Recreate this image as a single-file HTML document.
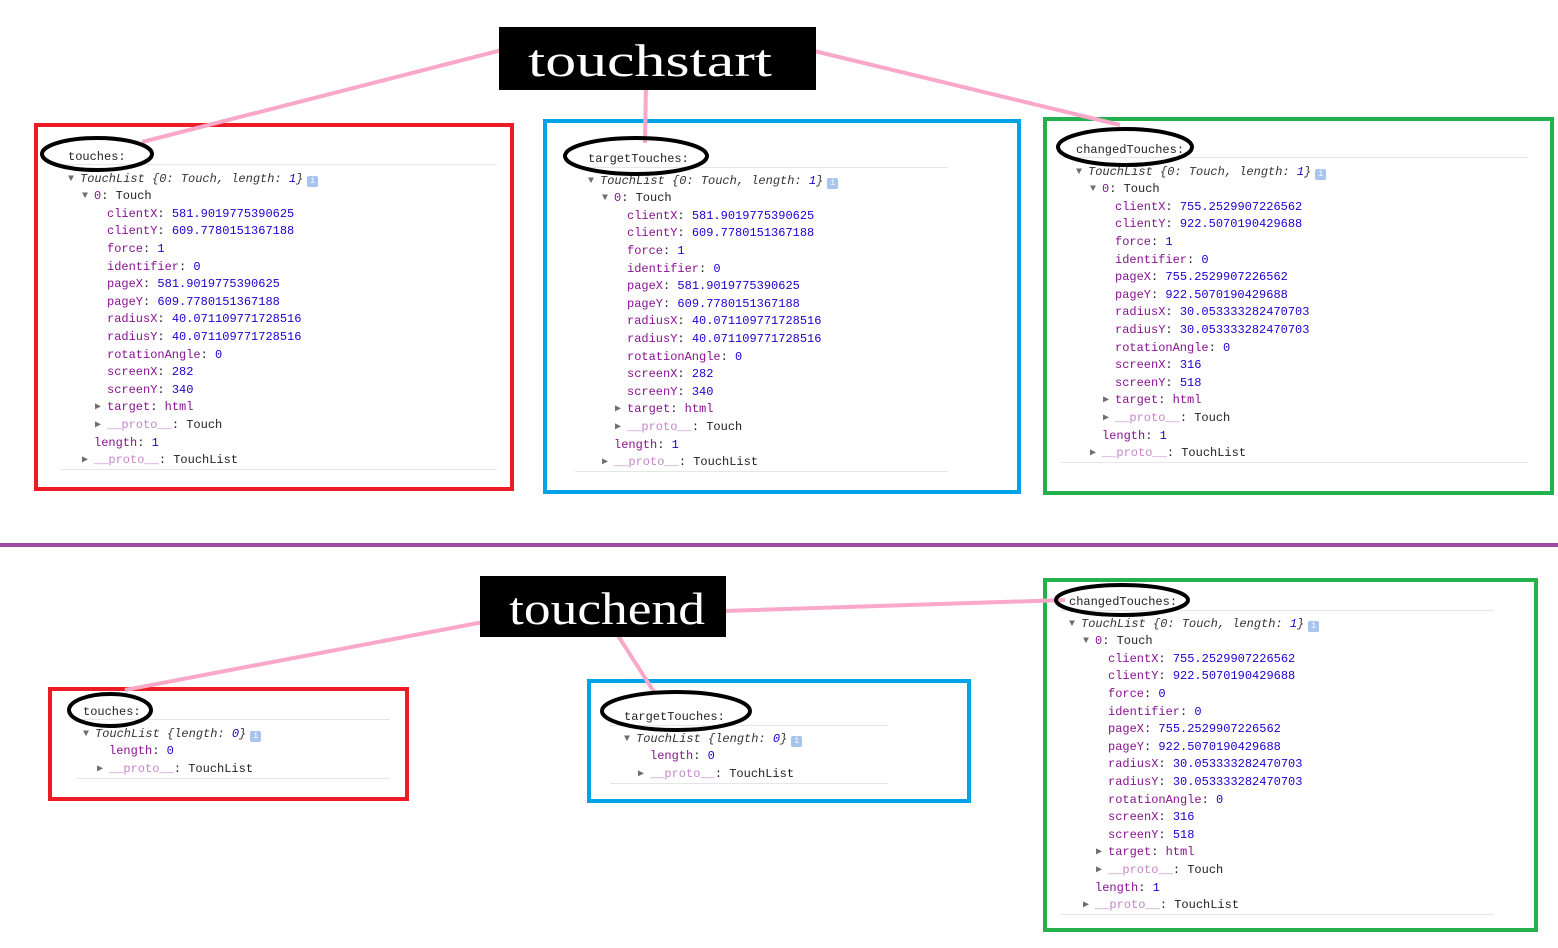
<!DOCTYPE html>
<html><head><meta charset="utf-8"><style>
body{margin:0;width:1558px;height:948px;background:#fff;position:relative;overflow:hidden}
.box{position:absolute;box-sizing:border-box}
.p{position:absolute;font:12px/17.6px "Liberation Mono",monospace;color:#222}
.r{height:17.6px;white-space:pre}
.h{height:17.6px;margin-bottom:4px;white-space:pre}
.k{color:#881391}.n{color:#1c00cf}.pr{color:#c387c8}.i{font-style:italic;color:#333}
.t{color:#6e6e6e;font-size:10px;display:inline-block;width:12px;vertical-align:top}
.ic{display:inline-block;width:11px;height:11px;background:#a7c4ee;border-radius:2px;color:#fff;font-size:9px;line-height:11px;text-align:center;vertical-align:-1px;margin-left:4px;font-style:normal}
.sep{position:absolute;height:1px;background:#e6e6e6}
</style></head><body>
<div class="box" style="left:34px;top:123px;width:480px;height:368px;border:4px solid #ed1c24"></div>
<div class="box" style="left:543px;top:119px;width:478px;height:375px;border:4px solid #00a2e8"></div>
<div class="box" style="left:1043px;top:117px;width:511px;height:378px;border:4px solid #22b14c"></div>
<div class="box" style="left:48px;top:687px;width:361px;height:114px;border:4px solid #ed1c24"></div>
<div class="box" style="left:587px;top:679px;width:384px;height:124px;border:4px solid #00a2e8"></div>
<div class="box" style="left:1043px;top:578px;width:495px;height:354px;border:4px solid #22b14c"></div>
<div style="position:absolute;left:0;top:543px;width:1558px;height:4px;background:#a349a4"></div>

<div class="sep" style="left:60px;top:164px;width:437px"></div><div class="sep" style="left:60px;top:469px;width:437px"></div>
<div class="sep" style="left:575px;top:167px;width:373px"></div><div class="sep" style="left:575px;top:471px;width:373px"></div>
<div class="sep" style="left:1060px;top:157px;width:468px"></div><div class="sep" style="left:1060px;top:462px;width:468px"></div>
<div class="sep" style="left:76px;top:719px;width:314px"></div><div class="sep" style="left:76px;top:778px;width:314px"></div>
<div class="sep" style="left:610px;top:725px;width:278px"></div><div class="sep" style="left:610px;top:783px;width:278px"></div>
<div class="sep" style="left:1060px;top:610px;width:434px"></div><div class="sep" style="left:1060px;top:914px;width:434px"></div>

<div class="p" style="left:68px;top:149px">
<div class="h">touches:</div>
<div class="r"><span class="t">▼</span><span class="i">TouchList {0: Touch, length: <span class="n">1</span>}</span><span class="ic">i</span></div>
<div class="r" style="padding-left:14px"><span class="t">▼</span><span class="k">0</span>: Touch</div>
<div class="r" style="padding-left:39px"><span class="k">clientX</span>: <span class="n">581.9019775390625</span></div>
<div class="r" style="padding-left:39px"><span class="k">clientY</span>: <span class="n">609.7780151367188</span></div>
<div class="r" style="padding-left:39px"><span class="k">force</span>: <span class="n">1</span></div>
<div class="r" style="padding-left:39px"><span class="k">identifier</span>: <span class="n">0</span></div>
<div class="r" style="padding-left:39px"><span class="k">pageX</span>: <span class="n">581.9019775390625</span></div>
<div class="r" style="padding-left:39px"><span class="k">pageY</span>: <span class="n">609.7780151367188</span></div>
<div class="r" style="padding-left:39px"><span class="k">radiusX</span>: <span class="n">40.071109771728516</span></div>
<div class="r" style="padding-left:39px"><span class="k">radiusY</span>: <span class="n">40.071109771728516</span></div>
<div class="r" style="padding-left:39px"><span class="k">rotationAngle</span>: <span class="n">0</span></div>
<div class="r" style="padding-left:39px"><span class="k">screenX</span>: <span class="n">282</span></div>
<div class="r" style="padding-left:39px"><span class="k">screenY</span>: <span class="n">340</span></div>
<div class="r" style="padding-left:27px"><span class="t">▶</span><span class="k">target</span>: <span class="k">html</span></div>
<div class="r" style="padding-left:27px"><span class="t">▶</span><span class="pr">__proto__</span>: Touch</div>
<div class="r" style="padding-left:26px"><span class="k">length</span>: <span class="n">1</span></div>
<div class="r" style="padding-left:14px"><span class="t">▶</span><span class="pr">__proto__</span>: TouchList</div>
</div>

<div class="p" style="left:588px;top:151px">
<div class="h">targetTouches:</div>
<div class="r"><span class="t">▼</span><span class="i">TouchList {0: Touch, length: <span class="n">1</span>}</span><span class="ic">i</span></div>
<div class="r" style="padding-left:14px"><span class="t">▼</span><span class="k">0</span>: Touch</div>
<div class="r" style="padding-left:39px"><span class="k">clientX</span>: <span class="n">581.9019775390625</span></div>
<div class="r" style="padding-left:39px"><span class="k">clientY</span>: <span class="n">609.7780151367188</span></div>
<div class="r" style="padding-left:39px"><span class="k">force</span>: <span class="n">1</span></div>
<div class="r" style="padding-left:39px"><span class="k">identifier</span>: <span class="n">0</span></div>
<div class="r" style="padding-left:39px"><span class="k">pageX</span>: <span class="n">581.9019775390625</span></div>
<div class="r" style="padding-left:39px"><span class="k">pageY</span>: <span class="n">609.7780151367188</span></div>
<div class="r" style="padding-left:39px"><span class="k">radiusX</span>: <span class="n">40.071109771728516</span></div>
<div class="r" style="padding-left:39px"><span class="k">radiusY</span>: <span class="n">40.071109771728516</span></div>
<div class="r" style="padding-left:39px"><span class="k">rotationAngle</span>: <span class="n">0</span></div>
<div class="r" style="padding-left:39px"><span class="k">screenX</span>: <span class="n">282</span></div>
<div class="r" style="padding-left:39px"><span class="k">screenY</span>: <span class="n">340</span></div>
<div class="r" style="padding-left:27px"><span class="t">▶</span><span class="k">target</span>: <span class="k">html</span></div>
<div class="r" style="padding-left:27px"><span class="t">▶</span><span class="pr">__proto__</span>: Touch</div>
<div class="r" style="padding-left:26px"><span class="k">length</span>: <span class="n">1</span></div>
<div class="r" style="padding-left:14px"><span class="t">▶</span><span class="pr">__proto__</span>: TouchList</div>
</div>

<div class="p" style="left:1076px;top:142px">
<div class="h">changedTouches:</div>
<div class="r"><span class="t">▼</span><span class="i">TouchList {0: Touch, length: <span class="n">1</span>}</span><span class="ic">i</span></div>
<div class="r" style="padding-left:14px"><span class="t">▼</span><span class="k">0</span>: Touch</div>
<div class="r" style="padding-left:39px"><span class="k">clientX</span>: <span class="n">755.2529907226562</span></div>
<div class="r" style="padding-left:39px"><span class="k">clientY</span>: <span class="n">922.5070190429688</span></div>
<div class="r" style="padding-left:39px"><span class="k">force</span>: <span class="n">1</span></div>
<div class="r" style="padding-left:39px"><span class="k">identifier</span>: <span class="n">0</span></div>
<div class="r" style="padding-left:39px"><span class="k">pageX</span>: <span class="n">755.2529907226562</span></div>
<div class="r" style="padding-left:39px"><span class="k">pageY</span>: <span class="n">922.5070190429688</span></div>
<div class="r" style="padding-left:39px"><span class="k">radiusX</span>: <span class="n">30.053333282470703</span></div>
<div class="r" style="padding-left:39px"><span class="k">radiusY</span>: <span class="n">30.053333282470703</span></div>
<div class="r" style="padding-left:39px"><span class="k">rotationAngle</span>: <span class="n">0</span></div>
<div class="r" style="padding-left:39px"><span class="k">screenX</span>: <span class="n">316</span></div>
<div class="r" style="padding-left:39px"><span class="k">screenY</span>: <span class="n">518</span></div>
<div class="r" style="padding-left:27px"><span class="t">▶</span><span class="k">target</span>: <span class="k">html</span></div>
<div class="r" style="padding-left:27px"><span class="t">▶</span><span class="pr">__proto__</span>: Touch</div>
<div class="r" style="padding-left:26px"><span class="k">length</span>: <span class="n">1</span></div>
<div class="r" style="padding-left:14px"><span class="t">▶</span><span class="pr">__proto__</span>: TouchList</div>
</div>

<div class="p" style="left:83px;top:704px">
<div class="h">touches:</div>
<div class="r"><span class="t">▼</span><span class="i">TouchList {length: <span class="n">0</span>}</span><span class="ic">i</span></div>
<div class="r" style="padding-left:26px"><span class="k">length</span>: <span class="n">0</span></div>
<div class="r" style="padding-left:14px"><span class="t">▶</span><span class="pr">__proto__</span>: TouchList</div>
</div>

<div class="p" style="left:624px;top:709px">
<div class="h">targetTouches:</div>
<div class="r"><span class="t">▼</span><span class="i">TouchList {length: <span class="n">0</span>}</span><span class="ic">i</span></div>
<div class="r" style="padding-left:26px"><span class="k">length</span>: <span class="n">0</span></div>
<div class="r" style="padding-left:14px"><span class="t">▶</span><span class="pr">__proto__</span>: TouchList</div>
</div>

<div class="p" style="left:1069px;top:594px">
<div class="h">changedTouches:</div>
<div class="r"><span class="t">▼</span><span class="i">TouchList {0: Touch, length: <span class="n">1</span>}</span><span class="ic">i</span></div>
<div class="r" style="padding-left:14px"><span class="t">▼</span><span class="k">0</span>: Touch</div>
<div class="r" style="padding-left:39px"><span class="k">clientX</span>: <span class="n">755.2529907226562</span></div>
<div class="r" style="padding-left:39px"><span class="k">clientY</span>: <span class="n">922.5070190429688</span></div>
<div class="r" style="padding-left:39px"><span class="k">force</span>: <span class="n">0</span></div>
<div class="r" style="padding-left:39px"><span class="k">identifier</span>: <span class="n">0</span></div>
<div class="r" style="padding-left:39px"><span class="k">pageX</span>: <span class="n">755.2529907226562</span></div>
<div class="r" style="padding-left:39px"><span class="k">pageY</span>: <span class="n">922.5070190429688</span></div>
<div class="r" style="padding-left:39px"><span class="k">radiusX</span>: <span class="n">30.053333282470703</span></div>
<div class="r" style="padding-left:39px"><span class="k">radiusY</span>: <span class="n">30.053333282470703</span></div>
<div class="r" style="padding-left:39px"><span class="k">rotationAngle</span>: <span class="n">0</span></div>
<div class="r" style="padding-left:39px"><span class="k">screenX</span>: <span class="n">316</span></div>
<div class="r" style="padding-left:39px"><span class="k">screenY</span>: <span class="n">518</span></div>
<div class="r" style="padding-left:27px"><span class="t">▶</span><span class="k">target</span>: <span class="k">html</span></div>
<div class="r" style="padding-left:27px"><span class="t">▶</span><span class="pr">__proto__</span>: Touch</div>
<div class="r" style="padding-left:26px"><span class="k">length</span>: <span class="n">1</span></div>
<div class="r" style="padding-left:14px"><span class="t">▶</span><span class="pr">__proto__</span>: TouchList</div>
</div>

<svg width="1558" height="948" style="position:absolute;left:0;top:0" xmlns="http://www.w3.org/2000/svg">
<g stroke="#f9a8c9" stroke-width="4" fill="none">
<line x1="142" y1="142" x2="502" y2="50"/>
<line x1="646" y1="82" x2="645" y2="143"/>
<line x1="810" y1="50" x2="1120" y2="125"/>
<line x1="494" y1="620" x2="125" y2="690"/>
<line x1="723" y1="611" x2="1065" y2="600"/>
<line x1="617" y1="634" x2="654" y2="692"/>
</g>
<rect x="499" y="27" width="317" height="63" fill="#000"/>
<text x="528" y="76" font-family="Liberation Serif, serif" font-size="46" fill="#fff" textLength="244" lengthAdjust="spacingAndGlyphs">touchstart</text>
<rect x="480" y="576" width="246" height="61" fill="#000"/>
<text x="509" y="624" font-family="Liberation Serif, serif" font-size="46" fill="#fff" textLength="196" lengthAdjust="spacingAndGlyphs">touchend</text>
<g stroke="#000" stroke-width="4" fill="none">
<ellipse cx="97" cy="154" rx="55" ry="16"/>
<ellipse cx="636" cy="156" rx="71" ry="18"/>
<ellipse cx="1125" cy="147" rx="67" ry="18"/>
<ellipse cx="110" cy="710" rx="41" ry="16"/>
<ellipse cx="676" cy="711" rx="74" ry="19"/>
<ellipse cx="1122" cy="600" rx="66" ry="15"/>
</g>
</svg>
</body></html>
